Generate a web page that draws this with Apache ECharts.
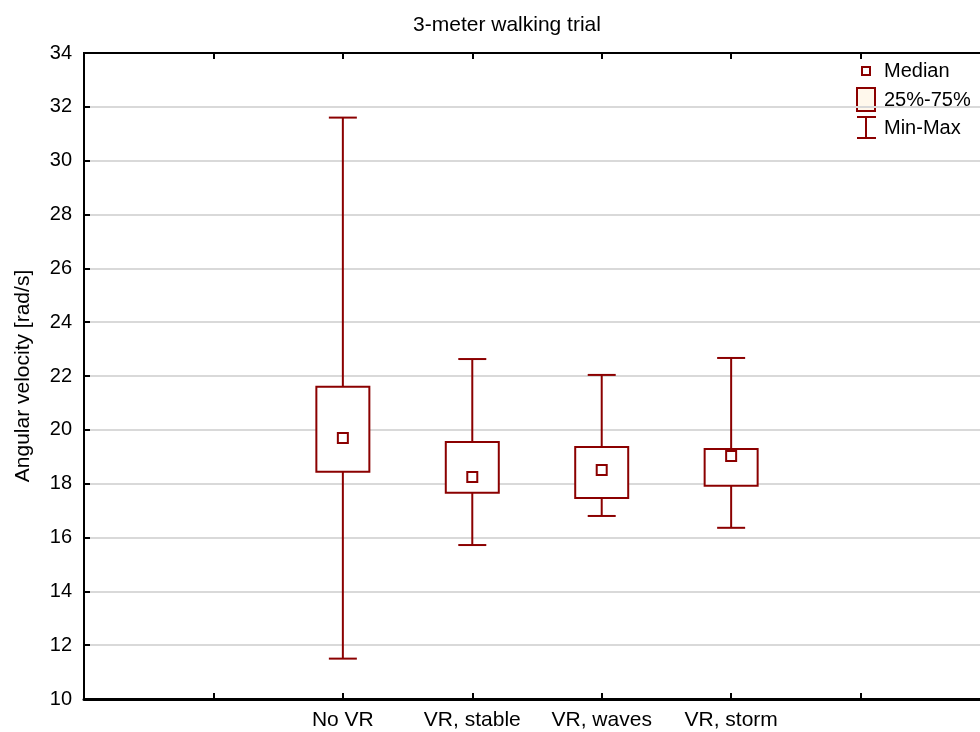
<!DOCTYPE html>
<html>
<head>
<meta charset="utf-8">
<script src="https://cdn.jsdelivr.net/npm/echarts@6/dist/echarts.min.js"></script>
<style>html,body{margin:0;padding:0;background:#fff}#c{width:980px;height:732px}</style>
</head>
<body>
<div id="c"></div>
<script>
var categories = ['No VR', 'VR, stable', 'VR, waves', 'VR, storm'];
var minVals = [11.5, 15.72, 16.8, 16.36];
var q1Vals = [18.44, 17.66, 17.47, 17.92];
var medianVals = [19.7, 18.25, 18.51, 19.03];
var q3Vals = [21.6, 19.55, 19.36, 19.29];
var maxVals = [31.6, 22.63, 22.04, 22.67];
var yTicks = [10, 12, 14, 16, 18, 20, 22, 24, 26, 28, 30, 32, 34];

var slots = ['', ''].concat(categories).concat(['', '']);
var offset = 2;
var data = categories.map(function (c, i) {
  return [i + offset, minVals[i], q1Vals[i], medianVals[i], q3Vals[i], maxVals[i]];
});
var RED = '#8b0000';
var FONT = 'Liberation Sans, Arial, sans-serif';

var chart = echarts.init(document.getElementById('c'));
chart.setOption({
  animation: false,
  title: {
    text: '3-meter walking trial', left: 502, top: 10, textAlign: 'center',
    textStyle: { fontFamily: FONT, fontSize: 21, fontWeight: 'normal', color: '#000' }
  },
  grid: { left: 84, width: 906, top: 53, height: 646, outerBoundsMode: 'none', containLabel: false, show: true, borderColor: '#000', borderWidth: 2, backgroundColor: 'transparent' },
  xAxis: [{
    type: 'category', data: slots, boundaryGap: false,
    axisLine: { lineStyle: { color: '#000', width: 3 } },
    axisTick: { inside: true, length: 6, lineStyle: { color: '#000', width: 2 } },
    axisLabel: { fontFamily: FONT, fontSize: 21, color: '#000', margin: 11, interval: 0 },
    splitLine: { show: false }
  }, {
    type: 'category', data: slots, boundaryGap: false, position: 'top',
    axisLine: { lineStyle: { color: '#000', width: 2 } },
    axisTick: { inside: true, length: 6, lineStyle: { color: '#000', width: 2 } },
    axisLabel: { show: false }
  }],
  yAxis: {
    type: 'value', min: yTicks[0], max: yTicks[yTicks.length - 1], interval: 2,
    name: 'Angular velocity [rad/s]', nameLocation: 'middle', nameGap: 50,
    nameTextStyle: { fontFamily: FONT, fontSize: 21, color: '#000' },
    axisLine: { show: true, lineStyle: { color: '#000', width: 2 } },
    axisTick: { show: true, inside: true, length: 6, lineStyle: { color: '#000', width: 2 } },
    axisLabel: { fontFamily: FONT, fontSize: 20, color: '#000', margin: 12 },
    splitLine: { show: true, lineStyle: { color: '#d9d9d9', width: 2 } }
  },
  series: [{
    type: 'custom',
    data: data,
    encode: { x: 0, y: [1, 2, 3, 4, 5] },
    renderItem: function (params, api) {
      var x = api.value(0);
      var pMin = api.coord([x, api.value(1)]);
      var pQ1 = api.coord([x, api.value(2)]);
      var pMed = api.coord([x, api.value(3)]);
      var pQ3 = api.coord([x, api.value(4)]);
      var pMax = api.coord([x, api.value(5)]);
      var cx = pMin[0];
      var bw = 53, cw = 28, ms = 10;
      var st = { stroke: RED, lineWidth: 2, fill: null };
      return {
        type: 'group',
        children: [
          { type: 'line', shape: { x1: cx, y1: pMax[1], x2: cx, y2: pQ3[1] }, style: st },
          { type: 'line', shape: { x1: cx, y1: pQ1[1], x2: cx, y2: pMin[1] }, style: st },
          { type: 'line', shape: { x1: cx - cw / 2, y1: pMax[1], x2: cx + cw / 2, y2: pMax[1] }, style: st },
          { type: 'line', shape: { x1: cx - cw / 2, y1: pMin[1], x2: cx + cw / 2, y2: pMin[1] }, style: st },
          { type: 'rect', shape: { x: cx - bw / 2, y: pQ3[1], width: bw, height: pQ1[1] - pQ3[1] }, style: { stroke: RED, lineWidth: 2, fill: '#fff' } },
          { type: 'rect', shape: { x: cx - ms / 2, y: pMed[1] - ms / 2, width: ms, height: ms }, style: { stroke: RED, lineWidth: 2, fill: '#fff' } }
        ]
      };
    }
  }],
  graphic: [
    { type: 'rect', shape: { x: 862, y: 67, width: 8, height: 8 }, style: { stroke: RED, lineWidth: 2, fill: '#fff' } },
    { type: 'text', x: 884, y: 71, style: { text: 'Median', fontFamily: FONT, fontSize: 20, fill: '#000', verticalAlign: 'middle' } },
    { type: 'rect', shape: { x: 857, y: 88, width: 18, height: 23 }, style: { stroke: RED, lineWidth: 2, fill: '#fff8ec' } },
    { type: 'text', x: 884, y: 100, style: { text: '25%-75%', fontFamily: FONT, fontSize: 20, fill: '#000', verticalAlign: 'middle' } },
    { type: 'line', shape: { x1: 866, y1: 117, x2: 866, y2: 138 }, style: { stroke: RED, lineWidth: 2 } },
    { type: 'line', shape: { x1: 857, y1: 117, x2: 876, y2: 117 }, style: { stroke: RED, lineWidth: 2 } },
    { type: 'line', shape: { x1: 857, y1: 138, x2: 876, y2: 138 }, style: { stroke: RED, lineWidth: 2 } },
    { type: 'text', x: 884, y: 128, style: { text: 'Min-Max', fontFamily: FONT, fontSize: 20, fill: '#000', verticalAlign: 'middle' } }
  ]
});
</script>
</body>
</html>
